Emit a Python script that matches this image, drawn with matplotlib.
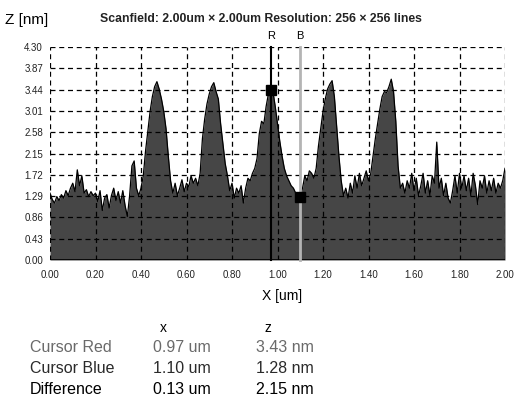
import numpy as np
import matplotlib.pyplot as plt

# profile, one value every 0.01 um
x_um = np.round(np.arange(0, 201) * 0.01, 2)
z_nm = [
    1.35, 1.22, 1.15, 1.28, 1.20, 1.32, 1.25, 1.40, 1.30, 1.45,
    1.55, 1.38, 1.82, 1.50, 1.70, 1.35, 1.42, 1.28, 1.38, 1.30,
    1.35, 1.18, 1.40, 1.00, 1.25, 1.32, 1.05, 1.30, 1.45, 1.20,
    1.38, 1.15, 1.40, 1.10, 0.88, 1.30, 1.90, 2.00, 1.45, 1.30,
    1.45, 1.70, 2.20, 2.60, 3.00, 3.30, 3.50, 3.60, 3.45, 3.25,
    3.00, 2.65, 2.10, 1.60, 1.35, 1.55, 1.30, 1.45, 1.62, 1.38,
    1.55, 1.48, 1.70, 1.55, 1.65, 1.50, 1.75, 2.45, 2.85, 3.15,
    3.35, 3.50, 3.58, 3.40, 3.25, 2.75, 2.35, 1.95, 1.70, 1.40,
    1.55, 1.25, 1.45, 1.35, 1.50, 1.15, 1.45, 1.65, 1.60, 1.75,
    1.85, 2.05, 2.55, 2.80, 2.75, 3.10, 3.35, 3.45, 3.40, 3.10,
    2.75, 2.40, 2.10, 1.85, 1.70, 1.60, 1.50, 1.45, 1.35, 1.30,
    1.28, 1.45, 1.70, 1.60, 1.80, 1.75, 1.65, 1.85, 2.30, 2.65,
    3.00, 3.25, 3.45, 3.55, 3.62, 3.30, 2.70, 2.10, 1.60, 1.30,
    1.45, 1.25, 1.55, 1.35, 1.70, 1.45, 1.75, 1.50, 1.65, 1.80,
    1.60, 1.75, 2.10, 2.45, 2.75, 3.05, 3.30, 3.40, 3.38, 3.50,
    3.65, 3.40, 2.80, 1.90, 1.45, 1.55, 1.35, 1.60, 1.45, 1.75,
    1.40, 1.65, 1.30, 1.50, 1.75, 1.35, 1.60, 1.30, 1.70, 1.55,
    2.38, 1.45, 1.65, 1.30, 1.55, 1.25, 1.15, 1.40, 1.70, 1.35,
    1.75, 1.45, 1.70, 1.40, 1.65, 1.30, 1.75, 1.50, 1.12, 1.60,
    1.45, 1.70, 1.35, 1.60, 1.40, 1.65, 1.35, 1.55, 1.45, 1.60,
    1.85,
]

y_ticks = [0.00, 0.43, 0.86, 1.29, 1.72, 2.15, 2.58, 3.01, 3.44, 3.87, 4.30]
x_ticks = [0.00, 0.20, 0.40, 0.60, 0.80, 1.00, 1.20, 1.40, 1.60, 1.80, 2.00]

cursor_red = (0.97, 3.43)
cursor_blue = (1.10, 1.28)

rows = [("Cursor Red", "0.97 um", "3.43 nm", "#6a6a6a"),
        ("Cursor Blue", "1.10 um", "1.28 nm", "#2a2a2a"),
        ("Difference", "0.13 um", "2.15 nm", "#000000")]

plt.rcParams['font.family'] = ['Liberation Sans', 'DejaVu Sans']

fig = plt.figure(figsize=(5.26, 4.0), dpi=100)
ax = fig.add_axes([50 / 526, 1 - 260 / 400, 455 / 526, 213 / 400])

ax.fill_between(x_um, 0, z_nm, color="#464646", lw=0, zorder=1)
ax.plot(x_um, z_nm, color="black", lw=0.9, zorder=2)

ax.set_xlim(0, 2.0)
ax.set_ylim(0, 4.30)
ax.set_xticks(x_ticks)
ax.set_yticks(y_ticks)
ax.set_xticklabels([f"{v:.2f}" for v in x_ticks], fontsize=7, color="#222222")
ax.set_yticklabels([f"{v:.2f}" for v in y_ticks], fontsize=7, color="#222222")
ax.tick_params(length=0, pad=5)
ax.tick_params(axis="x", pad=7)

for s in ax.spines.values():
    s.set_visible(False)
for v in y_ticks:
    ax.axhline(v, color="black", lw=0.9, ls=(0, (4, 3)), zorder=3)
for v in x_ticks:
    ax.axvline(v, color="black", lw=0.9, ls=(0, (4, 3)), zorder=3)
ax.axhline(0, color="black", lw=1.2, zorder=3)

# cursors
ax.plot([cursor_blue[0]] * 2, [0, 4.30], color="#b4b4b4", lw=2, zorder=4, clip_on=False)
ax.plot([cursor_red[0]] * 2, [0, 4.30], color="black", lw=1.5, zorder=4, clip_on=False)
ax.plot(*cursor_red, marker="s", ms=7, color="black", zorder=5)
ax.plot(*cursor_blue, marker="s", ms=7, color="black", zorder=5)
ax.text(cursor_red[0], 4.42, "R", ha="center", va="bottom", fontsize=8)
ax.text(cursor_blue[0], 4.42, "B", ha="center", va="bottom", fontsize=8)

fig.text(5 / 526, 1 - 20 / 400, "Z [nm]", fontsize=11, va="center")
fig.text(261 / 526, 1 - 19 / 400,
         "Scanfield: 2.00um \u00d7 2.00um Resolution: 256 \u00d7 256 lines",
         fontsize=8.8, fontweight="bold", color="#222222", ha="center", va="center")
fig.text(282 / 526, 1 - 296 / 400, "X [um]", fontsize=10, ha="center", va="center")

fig.text(163 / 526, 1 - 328 / 400, "x", fontsize=10, ha="center", va="center")
fig.text(268 / 526, 1 - 328 / 400, "z", fontsize=10, ha="center", va="center")
for i, (name, xv, zv, col) in enumerate(rows):
    y = 1 - (348 + i * 20.5) / 400
    fig.text(30 / 526, y, name, fontsize=11.5, color=col, va="center")
    fig.text(153 / 526, y, xv, fontsize=11.5, color=col, va="center")
    fig.text(256 / 526, y, zv, fontsize=11.5, color=col, va="center")

fig.savefig("out.png", dpi=100)
